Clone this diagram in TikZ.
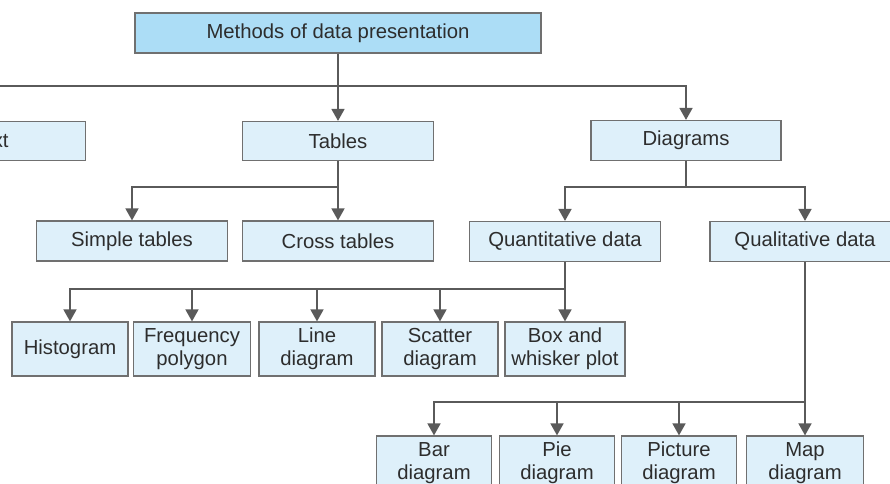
\documentclass[tikz,border=0pt]{standalone}
\usepackage{fontspec}
\setmainfont{Liberation Sans}
\usetikzlibrary{arrows.meta}
\definecolor{boxfill}{RGB}{222,240,250}
\definecolor{topfill}{RGB}{172,221,246}
\definecolor{boxline}{RGB}{112,112,112}
\definecolor{linegrey}{RGB}{90,90,90}
\definecolor{textgrey}{RGB}{45,45,45}
\begin{document}
\begin{tikzpicture}[
        x=1pt, y=-1pt,
        box/.style={draw=boxline, line width=1.2pt, fill=boxfill, text=textgrey,
            inner sep=0pt, align=center, minimum height=39pt,
            font=\fontsize{20.3}{23}\selectfont},
        tallbox/.style={box, minimum height=54pt},
        link/.style={draw=linegrey, line width=1.6pt},
        arrow/.style={link, -{Triangle[width=13pt,length=12pt]}},
    ]
        \useasboundingbox (0,0) rectangle (890,483);
        \clip (0,0) rectangle (890,483);

        \node[box, fill=topfill, minimum width=406pt, minimum height=40pt] (methods) at (338,33) {Methods of data presentation};

        \node[box, minimum width=191pt] (txt) at (-10,141) {Text};
        \node[box, minimum width=191pt] (tables) at (338,141) {Tables};
        \node[box, minimum width=190pt, minimum height=40pt] (diagrams) at (686,140.5) {Diagrams};

        \node[box, minimum width=191pt, minimum height=40pt] (simple) at (132,241) {Simple tables};
        \node[box, minimum width=191pt, minimum height=40pt] (cross) at (338,241) {Cross tables};
        \node[box, minimum width=191pt, minimum height=40pt] (quant) at (565,241.5) {Quantitative data};
        \node[box, minimum width=190pt, minimum height=40pt] (qual) at (805,241.5) {Qualitative data};

        \node[tallbox, minimum width=116pt] (histo) at (70,349) {Histogram};
        \node[tallbox, minimum width=117pt] (freq) at (192,349) {Frequency\\polygon};
        \node[tallbox, minimum width=116pt] (linediag) at (317,349) {Line\\diagram};
        \node[tallbox, minimum width=116pt] (scatter) at (440,349) {Scatter\\diagram};
        \node[tallbox, minimum width=120pt] (boxplot) at (565,349) {Box and\\whisker plot};

        \node[tallbox, minimum width=115pt] (bar) at (434,463) {Bar\\diagram};
        \node[tallbox, minimum width=115pt] (pie) at (557,463) {Pie\\diagram};
        \node[tallbox, minimum width=115pt] (pict) at (679,463) {Picture\\diagram};
        \node[tallbox, minimum width=117pt] (map) at (805,463) {Map\\diagram};

        % junctions of the tree
        \coordinate (jm) at (338,86);
        \coordinate (jt) at (338,187);
        \coordinate (jd) at (686,187);
        \coordinate (jq) at (565,289);
        \coordinate (jl) at (805,402);

        \draw[link] (methods) -- (jm);
        \foreach \n in {txt, tables, diagrams}
            \draw[arrow] (jm) -| (\n);

        \draw[link] (tables) -- (jt);
        \foreach \n in {simple, cross}
            \draw[arrow] (jt) -| (\n);

        \draw[link] (diagrams) -- (jd);
        \foreach \n in {quant, qual}
            \draw[arrow] (jd) -| (\n);

        \draw[link] (quant) -- (jq);
        \foreach \n in {histo, freq, linediag, scatter, boxplot}
            \draw[arrow] (jq) -| (\n);

        \draw[link] (qual) -- (jl);
        \foreach \n in {bar, pie, pict, map}
            \draw[arrow] (jl) -| (\n);
    \end{tikzpicture}
\end{document}
